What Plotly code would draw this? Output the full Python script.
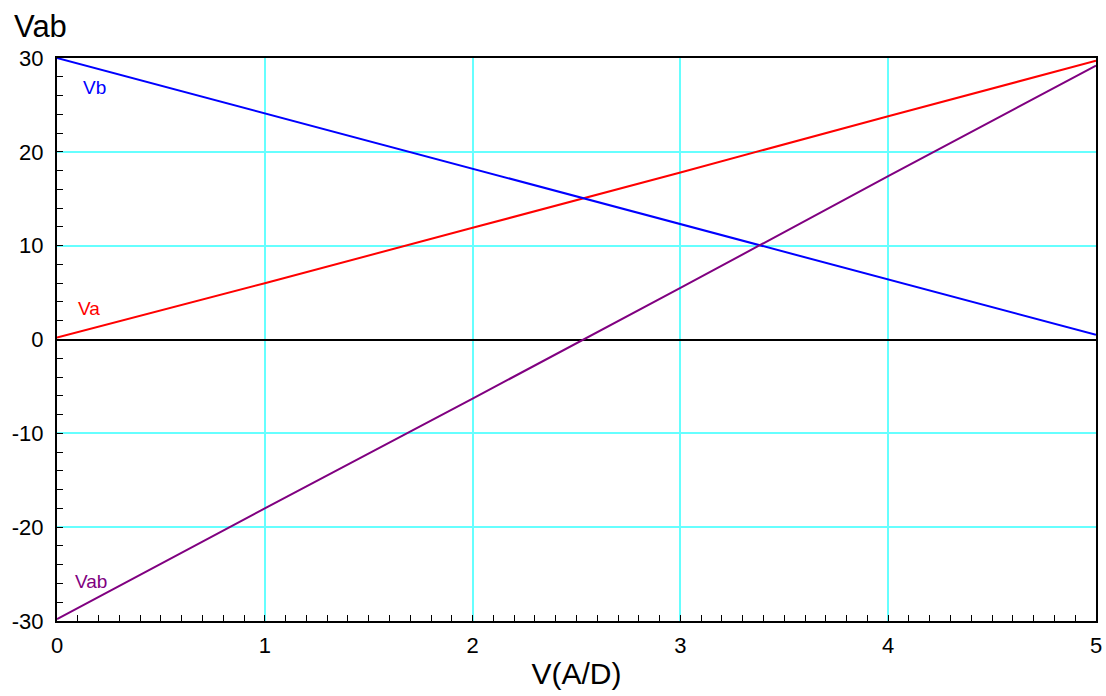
import plotly.graph_objects as go

x_vals = [0, 1, 2, 3, 4, 5]
va = [0.2, 6.0, 11.9, 17.8, 23.8, 29.7]
vb = [30.0, 24.1, 18.2, 12.3, 6.4, 0.5]
vab = [-29.8, -18.0, -6.3, 5.5, 17.4, 29.2]

y_tickvals = [-30, -20, -10, 0, 10, 20, 30]
y_ticktext = ["-30", "-20", "-10", "0", "10", "20", "30"]
x_tickvals = [0, 1, 2, 3, 4, 5]
x_ticktext = ["0", "1", "2", "3", "4", "5"]

labels = {"Va": ("#ff0000", 0.154, 3.3), "Vb": ("#0000ff", 0.18, 26.9), "Vab": ("#800080", 0.166, -25.8)}

FONT = "Liberation Sans, Arial"

fig = go.Figure()
fig.add_trace(go.Scatter(x=x_vals, y=va, mode="lines", line=dict(color="#ff0000", width=2), name="Va"))
fig.add_trace(go.Scatter(x=x_vals, y=vb, mode="lines", line=dict(color="#0000ff", width=2), name="Vb"))
fig.add_trace(go.Scatter(x=x_vals, y=vab, mode="lines", line=dict(color="#800080", width=2), name="Vab"))

for txt, (col, lx, ly) in labels.items():
    fig.add_annotation(x=lx, y=ly, text=txt, showarrow=False, xanchor="center", yanchor="middle",
                       font=dict(color=col, size=19, family=FONT))

fig.add_annotation(xref="paper", yref="paper", x=-0.042, y=1.088, text="Vab", showarrow=False,
                   xanchor="left", yanchor="top", borderpad=0,
                   font=dict(size=31, color="black", family=FONT))

fig.update_layout(
    width=1106, height=696,
    margin=dict(l=57, r=10, t=58, b=75, autoexpand=False),
    plot_bgcolor="white", paper_bgcolor="white",
    showlegend=False,
    font=dict(family=FONT, size=22, color="black"),
    xaxis=dict(range=[0, 5], tickmode="array", tickvals=x_tickvals, ticktext=x_ticktext,
               showgrid=True, gridcolor="#66ffff", gridwidth=1.5, automargin=False,
               showline=True, linecolor="black", linewidth=2, mirror=True,
               ticks="inside", ticklen=6, tickcolor="black", zeroline=False, ticklabelstandoff=4,
               minor=dict(dtick=0.1, tick0=0, ticks="inside", ticklen=6, tickcolor="black", showgrid=False),
               title=dict(text="V(A/D)", font=dict(size=30), standoff=6)),
    yaxis=dict(range=[-30, 30], tickmode="array", tickvals=y_tickvals, ticktext=y_ticktext,
               showgrid=True, gridcolor="#66ffff", gridwidth=1.5, automargin=False,
               showline=True, linecolor="black", linewidth=2, mirror=True,
               ticks="inside", ticklen=6, tickcolor="black", ticklabelstandoff=7,
               zeroline=True, zerolinecolor="black", zerolinewidth=2,
               minor=dict(dtick=2, tick0=0, ticks="inside", ticklen=6, tickcolor="black", showgrid=False)),
)

fig.write_html("out.html", config={"displayModeBar": False},
               post_script="document.body.style.margin='0';document.body.style.overflow='hidden';")
